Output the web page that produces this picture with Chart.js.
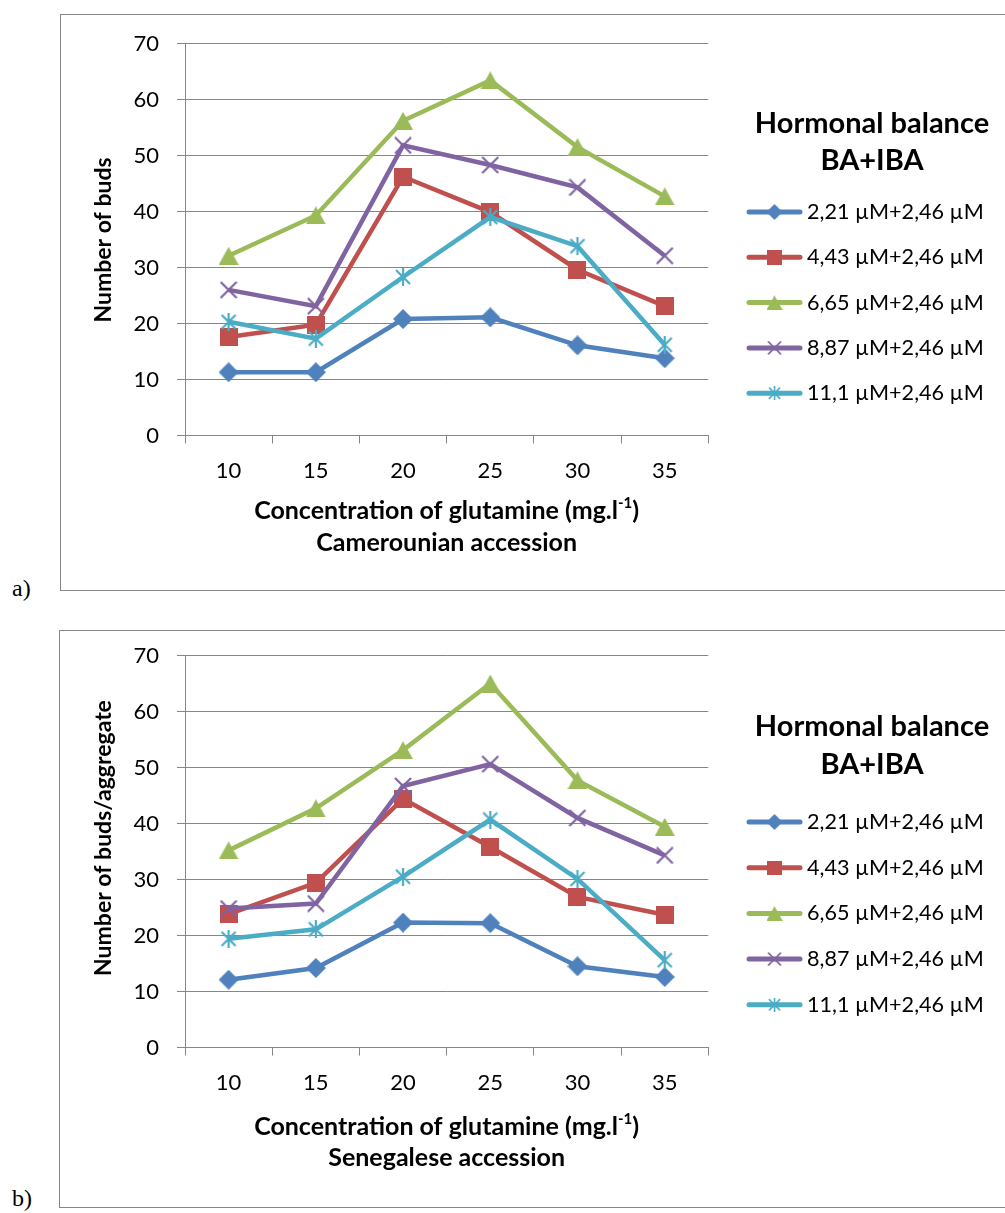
<!DOCTYPE html>
<html><head><meta charset="utf-8">
<script src="https://cdn.jsdelivr.net/npm/chart.js@4.4.1/dist/chart.umd.min.js"></script>
<style>
html,body{margin:0;padding:0;background:#fff;}
body{width:1005px;height:1213px;position:relative;overflow:hidden;font-family:Lato,sans-serif;}
.frame{position:absolute;border:1px solid #868686;border-right:none;box-sizing:border-box;}
.lbl{position:absolute;font-family:'Liberation Serif',serif;font-size:24px;color:#000;line-height:28px;}
canvas{position:absolute;left:0;}
</style></head><body>
<div class="frame" style="left:60px;top:14px;width:960px;height:577px"></div>
<div class="frame" style="left:59px;top:630px;width:960px;height:578px"></div>
<div class="lbl" style="left:12px;top:574px">a)</div>
<div class="lbl" style="left:12px;top:1184px">b)</div>
<canvas id="ca" width="1005" height="600" style="top:0"></canvas>
<canvas id="cb" width="1005" height="600" style="top:612px"></canvas>
<script>
// ---------- data ----------
const categories = ['10', '15', '20', '25', '30', '35'];
const seriesNames = ['2,21 µM+2,46 µM', '4,43 µM+2,46 µM', '6,65 µM+2,46 µM', '8,87 µM+2,46 µM', '11,1 µM+2,46 µM'];
const yTickValues = [0, 10, 20, 30, 40, 50, 60, 70];

// a) Camerounian accession
const camS1 = [11.3, 11.3, 20.8, 21.1, 16.1, 13.8];
const camS2 = [17.6, 19.8, 46.2, 39.9, 29.6, 23.1];
const camS3 = [32.1, 39.3, 56.2, 63.4, 51.5, 42.7];
const camS4 = [26.0, 23.1, 51.8, 48.3, 44.3, 32.1];
const camS5 = [20.3, 17.3, 28.3, 39.0, 33.8, 16.2];

// b) Senegalese accession
const senS1 = [12.1, 14.2, 22.3, 22.2, 14.5, 12.6];
const senS2 = [23.8, 29.4, 44.4, 35.8, 26.9, 23.7];
const senS3 = [35.2, 42.7, 53.1, 65.0, 47.7, 39.4];
const senS4 = [24.8, 25.7, 46.7, 50.6, 41.0, 34.3];
const senS5 = [19.4, 21.1, 30.5, 40.7, 30.1, 15.6];

// ---------- styles ----------
const colors = ['#4F81BD', '#C0504D', '#9BBB59', '#8064A2', '#4BACC6'];
const GRID = '#868686';

function mk(w, h, draw) {
  const c = document.createElement('canvas');
  c.width = w; c.height = h;
  const g = c.getContext('2d');
  draw(g, w, h);
  return c;
}
const markers = [
  mk(20, 20, (g, w, h) => { g.fillStyle = colors[0]; g.beginPath(); g.moveTo(w/2, 0); g.lineTo(w, h/2); g.lineTo(w/2, h); g.lineTo(0, h/2); g.closePath(); g.fill(); }),
  mk(18, 18, (g, w, h) => { g.fillStyle = colors[1]; g.fillRect(0, 0, w, h); }),
  mk(20, 18, (g, w, h) => { g.fillStyle = colors[2]; g.beginPath(); g.moveTo(w/2, 0); g.lineTo(w, h); g.lineTo(0, h); g.closePath(); g.fill(); }),
  mk(18, 18, (g, w, h) => { g.strokeStyle = colors[3]; g.lineWidth = 2.2; g.beginPath(); g.moveTo(1, 1); g.lineTo(w-1, h-1); g.moveTo(w-1, 1); g.lineTo(1, h-1); g.stroke(); }),
  mk(18, 18, (g, w, h) => { g.strokeStyle = colors[4]; g.lineWidth = 2.2; g.beginPath(); g.moveTo(2, 2); g.lineTo(w-2, h-2); g.moveTo(w-2, 2); g.lineTo(2, h-2); g.moveTo(w/2, 0); g.lineTo(w/2, h); g.stroke(); })
];

function datasets(series) {
  return series.map((vals, i) => ({
    label: seriesNames[i],
    data: vals,
    borderColor: colors[i],
    backgroundColor: colors[i],
    borderWidth: 4.5,
    pointStyle: markers[i],
    pointRadius: 9,
    pointHoverRadius: 9,
    tension: 0,
    fill: false,
    order: series.length - i
  }));
}

const figPlugin = {
  id: 'figText',
  afterDraw(chart, args, o) {
    const ctx = chart.ctx;
    const ca = chart.chartArea;
    ctx.save();
    ctx.fillStyle = '#000';
    ctx.textBaseline = 'middle';
    // y axis title
    ctx.save();
    ctx.translate(o.yTitleX, o.yTitleY);
    ctx.rotate(-Math.PI / 2);
    ctx.font = 'bold 23px Lato';
    ctx.textAlign = 'center';
    ctx.fillText(o.yTitle, 0, 0);
    ctx.restore();
    // x axis title with superscript
    const cx = (ca.left + ca.right) / 2;
    const main = 'Concentration of glutamine (mg.l', sup = '-1', tail = ')';
    const F = 'bold 25px Lato', FS = 'bold 15px Lato';
    ctx.textAlign = 'left';
    ctx.font = F;
    const wm = ctx.measureText(main).width, wt = ctx.measureText(tail).width;
    ctx.font = FS;
    const ws = ctx.measureText(sup).width;
    let x = cx - (wm + ws + wt) / 2;
    ctx.font = F;
    ctx.fillText(main, x, o.xTitleY1);
    x += wm;
    ctx.font = FS;
    ctx.fillText(sup, x, o.xTitleY1 - 8);
    x += ws;
    ctx.font = F;
    ctx.fillText(tail, x, o.xTitleY1);
    ctx.textAlign = 'center';
    ctx.fillText(o.xTitle2, cx, o.xTitleY2);
    // legend
    ctx.font = 'bold 29px Lato';
    ctx.fillText(o.legTitle[0], o.legCX, o.legTitleY[0]);
    ctx.fillText(o.legTitle[1], o.legCX, o.legTitleY[1]);
    ctx.font = '21.6px Lato';
    ctx.textAlign = 'left';
    chart.data.datasets.forEach((ds, i) => {
      const y = o.legY0 + i * o.legStep;
      ctx.strokeStyle = ds.borderColor;
      ctx.lineWidth = 5;
      ctx.lineCap = 'round';
      ctx.beginPath();
      ctx.moveTo(o.legX1, y);
      ctx.lineTo(o.legX2, y);
      ctx.stroke();
      const m = ds.pointStyle, s = 0.8;
      ctx.drawImage(m, (o.legX1 + o.legX2) / 2 - m.width * s / 2, y - m.height * s / 2, m.width * s, m.height * s);
      ctx.fillStyle = '#000';
      ctx.fillText(ds.label, o.legTextX, y);
    });
    ctx.restore();
  }
};

function build(id, series, txt) {
  return new Chart(document.getElementById(id), {
    type: 'line',
    data: { labels: categories, datasets: datasets(series) },
    plugins: [figPlugin],
    options: {
      responsive: false,
      animation: false,
      devicePixelRatio: 1,
      events: [],
      layout: { padding: { left: 0, top: 43.5, right: 1005 - 708.3, bottom: 104.5 } },
      plugins: { legend: { display: false }, tooltip: { enabled: false }, figText: txt },
      scales: {
        x: {
          type: 'category',
          offset: true,
          afterFit: s => { s.height = 60; },
          grid: { offset: true, drawOnChartArea: false, drawTicks: true, tickLength: 8, color: GRID, lineWidth: 1 },
          border: { display: true, color: GRID, width: 1 },
          ticks: { color: '#000', font: { family: 'Lato', size: 22 }, padding: 14, maxRotation: 0, autoSkip: false }
        },
        y: {
          min: 0, max: 70,
          afterFit: s => { s.width = 185; },
          afterBuildTicks: s => { s.ticks = yTickValues.map(v => ({ value: v })); },
          grid: { color: GRID, lineWidth: 1, tickLength: 8, drawTicks: true },
          border: { display: true, color: GRID, width: 1 },
          ticks: { color: '#000', font: { family: 'Lato', size: 22 }, padding: 18 }
        }
      }
    }
  });
}

const common = { legTitle: ['Hormonal balance', 'BA+IBA'], legCX: 872, legX1: 749, legX2: 800, legTextX: 807 };
build('ca', [camS1, camS2, camS3, camS4, camS5], Object.assign({}, common, {
  yTitle: 'Number of buds', yTitleX: 104, yTitleY: 240,
  xTitleY1: 511, xTitleY2: 543, xTitle2: 'Camerounian accession',
  legTitleY: [124, 161], legY0: 212, legStep: 45.3
}));
build('cb', [senS1, senS2, senS3, senS4, senS5], Object.assign({}, common, {
  yTitle: 'Number of buds/aggregate', yTitleX: 104, yTitleY: 226,
  xTitleY1: 515, xTitleY2: 546, xTitle2: 'Senegalese accession',
  legTitleY: [115, 153], legY0: 210, legStep: 45.7
}));
</script>
</body></html>
